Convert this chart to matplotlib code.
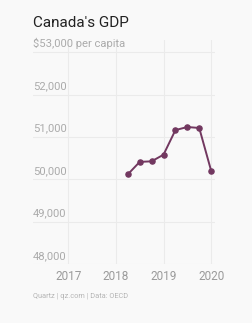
import matplotlib.pyplot as plt
from matplotlib.transforms import blended_transform_factory, offset_copy

plt.rcParams['font.family'] = ['Roboto', 'DejaVu Sans']

# quarterly GDP per capita, US$
quarters = [2018.25, 2018.5, 2018.75, 2019.0, 2019.25, 2019.5, 2019.75, 2020.0]
gdp = [50120, 50415, 50428, 50585, 51165, 51238, 51215, 50205]
years = [2017, 2018, 2019, 2020]
y_ticks = [48000, 49000, 50000, 51000, 52000, 53000]
y_labels = ['48,000', '49,000', '50,000', '51,000', '52,000', '$53,000 per capita']

bg = '#f9f9f9'
fig = plt.figure(figsize=(2.52, 3.23), dpi=100, facecolor=bg)
ax = fig.add_axes([0.131, 0.182, 0.722, 0.694], facecolor=bg)

ax.plot(quarters, gdp, color='#723860', lw=1.4, marker='o', ms=3.7, zorder=3)

ax.set_xlim(2016.26, 2020.08)
ax.set_ylim(48000, 53290)
for s in ax.spines.values():
    s.set_visible(False)

for v in y_ticks:
    ax.axhline(v, color='#ebebeb', lw=0.8, zorder=1)
for yr in years:
    ax.plot([yr, yr], [48000, 53290], color='#ebebeb', lw=0.8, zorder=1)

ax.set_yticks([])
ax.set_xticks(years)
ax.set_xticklabels([str(y) for y in years])
ax.tick_params(axis='x', length=0, pad=4, labelsize=8.5, labelcolor='#9a9a9a')

tr = offset_copy(blended_transform_factory(ax.transAxes, ax.transData), fig=fig, x=0, y=2.5, units='points')
for v, lab in zip(y_ticks, y_labels):
    ax.text(0, v, lab, transform=tr, ha='left', va='bottom', fontsize=8.1, color='#ababab')

fig.text(0.131, 0.930, "Canada's GDP", fontsize=11, color='#222222', va='center')
fig.text(0.131, 0.083, 'Quartz | qz.com | Data: OECD', fontsize=5.3, color='#b5b5b5', va='center')

fig.savefig('out.png', dpi=100, facecolor=bg)
